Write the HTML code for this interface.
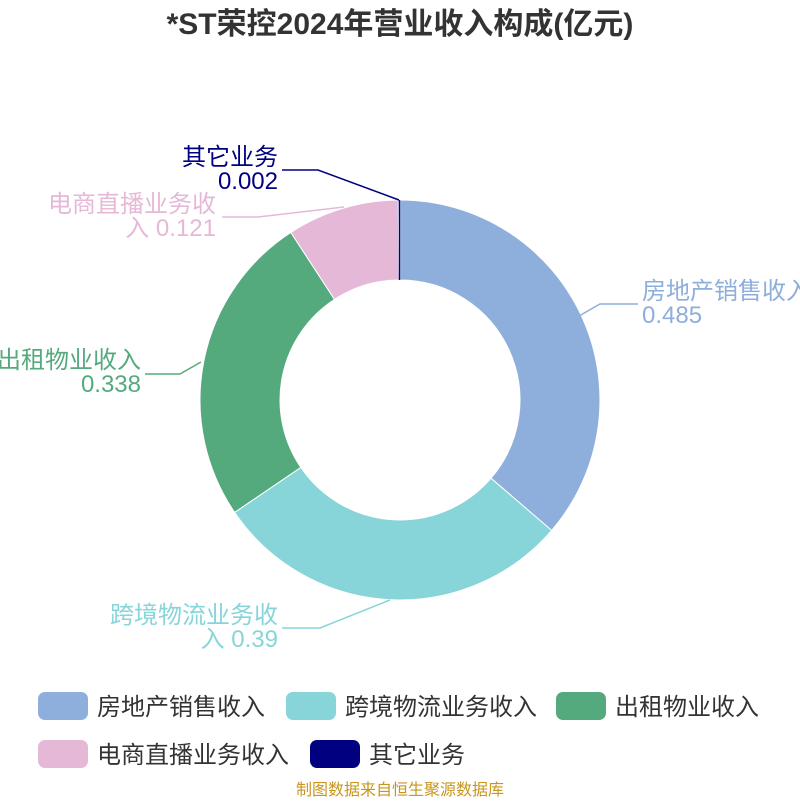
<!DOCTYPE html>
<html><head><meta charset="utf-8"><style>
body{margin:0;background:#fff;}
svg text{font-family:"Liberation Sans","Noto Sans CJK SC",sans-serif;}
</style></head><body>
<svg width="800" height="800" viewBox="0 0 800 800" xmlns="http://www.w3.org/2000/svg">
<rect width="800" height="800" fill="#fff"/>
<text x="400" y="34" text-anchor="middle" font-size="30" font-weight="bold" fill="#333">*ST荣控2024年营业收入构成(亿元)</text>
<g stroke="#fff" stroke-width="1">
<path d="M400,200 A200,200 0 0 1 551.6,530.4 L491,478.2 A120,120 0 0 0 400,280 Z" fill="#8eaedb"/>
<path d="M551.6,530.4 A200,200 0 0 1 234.6,512.4 L300.8,467.4 A120,120 0 0 0 491,478.2 Z" fill="#87d5d9"/>
<path d="M234.6,512.4 A200,200 0 0 1 290.8,232.4 L334.5,299.4 A120,120 0 0 0 300.8,467.4 Z" fill="#55aa7d"/>
<path d="M290.8,232.4 A200,200 0 0 1 398.3,200 L399,280 A120,120 0 0 0 334.5,299.4 Z" fill="#e6b8d8"/>
<path d="M398.3,200 A200,200 0 0 1 400,200 L400,280 A120,120 0 0 0 399,280 Z" fill="#000080"/>
</g>
<line x1="399.5" y1="200" x2="399.5" y2="280" stroke="#000080" stroke-width="1.5"/>
<g fill="none" stroke-width="1.5">
<polyline points="579,316 600,304 638,304" stroke="#8eaedb"/>
<polyline points="390,600 320,628 282,628" stroke="#87d5d9"/>
<polyline points="201,362 180,374 145,374" stroke="#55aa7d"/>
<polyline points="344,207 258,217 222,217" stroke="#e6b8d8"/>
<polyline points="399,200 318,170 282,170" stroke="#000080"/>
</g>
<g font-size="24">
<text x="642" y="299" fill="#8eaedb">房地产销售收入</text>
<text x="642" y="323" fill="#8eaedb">0.485</text>
<text x="278" y="623" text-anchor="end" fill="#87d5d9">跨境物流业务收</text>
<text x="278" y="647" text-anchor="end" fill="#87d5d9">入 0.39</text>
<text x="141" y="368" text-anchor="end" fill="#55aa7d">出租物业收入</text>
<text x="141" y="392" text-anchor="end" fill="#55aa7d">0.338</text>
<text x="216" y="212" text-anchor="end" fill="#e6b8d8">电商直播业务收</text>
<text x="216" y="236" text-anchor="end" fill="#e6b8d8">入 0.121</text>
<text x="278" y="165" text-anchor="end" fill="#000080">其它业务</text>
<text x="278" y="189" text-anchor="end" fill="#000080">0.002</text>
</g>
<g font-size="24" fill="#333">
<rect x="38" y="692" width="50" height="28" rx="7" fill="#8eaedb"/><text x="97" y="715">房地产销售收入</text>
<rect x="286" y="692" width="50" height="28" rx="7" fill="#87d5d9"/><text x="345" y="715">跨境物流业务收入</text>
<rect x="556" y="692" width="50" height="28" rx="7" fill="#55aa7d"/><text x="615" y="715">出租物业收入</text>
<rect x="38" y="740" width="50" height="28" rx="7" fill="#e6b8d8"/><text x="97" y="763">电商直播业务收入</text>
<rect x="310" y="740" width="50" height="28" rx="7" fill="#000080"/><text x="369" y="763">其它业务</text>
</g>
<text x="400" y="795" text-anchor="middle" font-size="16" fill="#c8961e">制图数据来自恒生聚源数据库</text>
</svg>
</body></html>
